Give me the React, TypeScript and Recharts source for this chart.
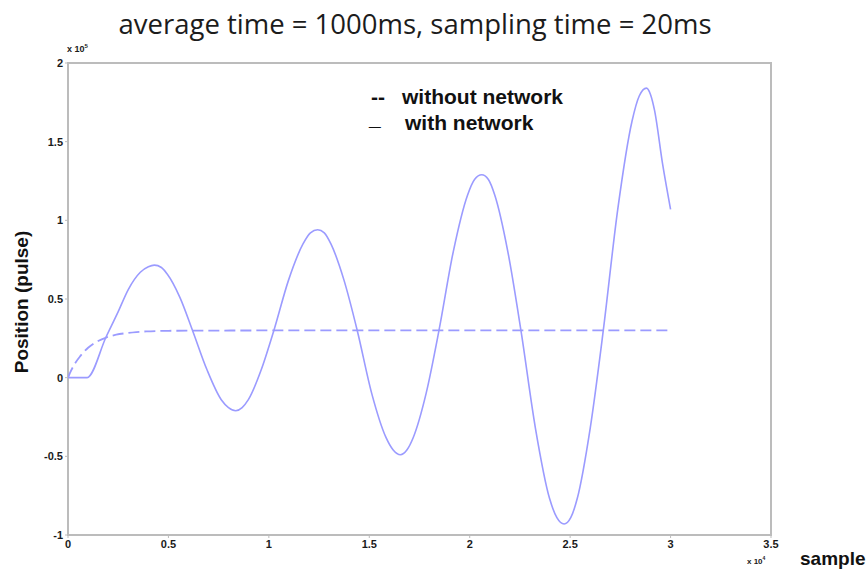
import { LineChart, Line, XAxis, YAxis, ReferenceArea } from "recharts";

// x in samples (x 10^4), y in pulses (x 10^5)
const sampleTicks = [0, 0.5, 1, 1.5, 2, 2.5, 3, 3.5];
const positionTicks = [-1, -0.5, 0, 0.5, 1, 1.5, 2];

const withNetworkX = [
  0, 0.05, 0.095, 0.19, 0.25, 0.3, 0.36, 0.4, 0.43, 0.465, 0.493, 0.557,
  0.62, 0.692, 0.763, 0.799, 0.835, 0.867, 0.898, 0.962, 1.025, 1.098, 1.17,
  1.207, 1.243, 1.276, 1.309, 1.374, 1.44, 1.512, 1.583, 1.619, 1.655, 1.687,
  1.719, 1.783, 1.847, 1.918, 1.989, 2.024, 2.06, 2.093, 2.125, 2.19, 2.255,
  2.327, 2.398, 2.434, 2.47, 2.503, 2.535, 2.6, 2.665, 2.737, 2.808, 2.844,
  2.88, 2.9, 2.92, 2.96, 3.0,
];
const withNetworkY = [
  0, 0, 0, 0.26, 0.42, 0.56, 0.67, 0.705, 0.715, 0.7, 0.66, 0.51,
  0.3, 0.05, -0.14, -0.19, -0.21, -0.19, -0.14, 0.05, 0.3, 0.62, 0.85,
  0.92, 0.94, 0.92, 0.85, 0.62, 0.3, -0.1, -0.38, -0.46, -0.49, -0.46,
  -0.38, -0.1, 0.3, 0.8, 1.16, 1.26, 1.29, 1.26, 1.16, 0.8, 0.3,
  -0.32, -0.77, -0.89, -0.93, -0.89, -0.77, -0.32, 0.3, 1.07, 1.63, 1.79,
  1.84, 1.8, 1.7, 1.36, 1.07,
];

const withoutNetworkX = [
  0, 0.01, 0.03, 0.06, 0.1, 0.125, 0.15, 0.19, 0.24, 0.29, 0.34, 0.39, 0.5,
  1, 2, 3,
];
const withoutNetworkY = [
  0, 0.03, 0.08, 0.135, 0.19, 0.214, 0.233, 0.255, 0.273, 0.283, 0.29, 0.294,
  0.298, 0.3, 0.3, 0.3,
];

const withNetwork = withNetworkX.map((x, i) => ({ x, y: withNetworkY[i] }));
const withoutNetwork = withoutNetworkX.map((x, i) => ({
  x,
  y: withoutNetworkY[i],
}));

const LINE_COLOR = "#9b9bff";
const AXIS_COLOR = "#bcbcbc";
const boldFont = "'Liberation Sans', Arial, sans-serif";
const tickStyle = { fill: "#1a1a1a", fontSize: 11, fontWeight: 700, fontFamily: boldFont };

const App = () => {
  return (
    <div
      style={{
        position: "absolute",
        left: 0,
        top: 0,
        width: 866,
        height: 571,
        background: "#fff",
        fontFamily: boldFont,
      }}
    >
      <div
        style={{
          position: "absolute",
          left: 0,
          width: 830,
          top: 8,
          textAlign: "center",
          fontFamily: "'Open Sans', sans-serif",
          fontSize: 27.5,
          lineHeight: "32px",
          color: "#1c1c1c",
          whiteSpace: "nowrap",
        }}
      >
        average time = 1000ms, sampling time = 20ms
      </div>

      <LineChart
        width={866}
        height={571}
        margin={{ top: 63, right: 95, left: 8, bottom: 6 }}
      >
        <XAxis
          dataKey="x"
          type="number"
          domain={[0, 3.5]}
          ticks={sampleTicks}
          allowDataOverflow
          height={30}
          tickSize={3}
          tickMargin={2}
          tick={tickStyle}
          tickLine={{ stroke: AXIS_COLOR }}
          axisLine={false}
        />
        <YAxis
          type="number"
          domain={[-1, 2]}
          ticks={positionTicks}
          allowDataOverflow
          width={60}
          tickSize={3}
          tickMargin={2}
          tick={tickStyle}
          tickLine={{ stroke: AXIS_COLOR }}
          axisLine={false}
        />
        <ReferenceArea
          x1={0}
          x2={3.5}
          y1={-1}
          y2={2}
          fill="none"
          stroke={AXIS_COLOR}
          strokeWidth={2}
          ifOverflow="visible"
        />
        <Line
          data={withoutNetwork}
          dataKey="y"
          type="monotone"
          stroke={LINE_COLOR}
          strokeWidth={1.8}
          strokeDasharray="11 5"
          dot={false}
          isAnimationActive={false}
        />
        <Line
          data={withNetwork}
          dataKey="y"
          type="monotone"
          stroke={LINE_COLOR}
          strokeWidth={1.6}
          dot={false}
          isAnimationActive={false}
        />
      </LineChart>

      {/* axis multipliers */}
      <div style={{ position: "absolute", left: 67, top: 43, fontSize: 9, fontWeight: 700, color: "#1a1a1a" }}>
        x 10<sup style={{ fontSize: 6 }}>5</sup>
      </div>
      <div style={{ position: "absolute", left: 747, top: 555, fontSize: 8, fontWeight: 700, color: "#1a1a1a" }}>
        x 10<sup style={{ fontSize: 5 }}>4</sup>
      </div>

      {/* legend */}
      <div style={{ position: "absolute", left: 371, top: 85, fontSize: 21, fontWeight: 700, color: "#111" }}>--</div>
      <div style={{ position: "absolute", left: 402, top: 85, fontSize: 21, fontWeight: 700, color: "#111" }}>
        without network
      </div>
      <div style={{ position: "absolute", left: 369, top: 106, fontSize: 21, fontWeight: 700, color: "#111" }}>_</div>
      <div style={{ position: "absolute", left: 405, top: 111, fontSize: 21, fontWeight: 700, color: "#111" }}>
        with network
      </div>

      {/* axis titles */}
      <div
        style={{
          position: "absolute",
          left: 22,
          top: 302,
          transform: "translate(-50%, -50%) rotate(-90deg)",
          whiteSpace: "nowrap",
          fontSize: 19,
          fontWeight: 700,
          color: "#111",
        }}
      >
        Position (pulse)
      </div>
      <div style={{ position: "absolute", left: 800, top: 548, fontSize: 19, fontWeight: 700, color: "#111" }}>
        sample
      </div>
    </div>
  );
};

export default App;
